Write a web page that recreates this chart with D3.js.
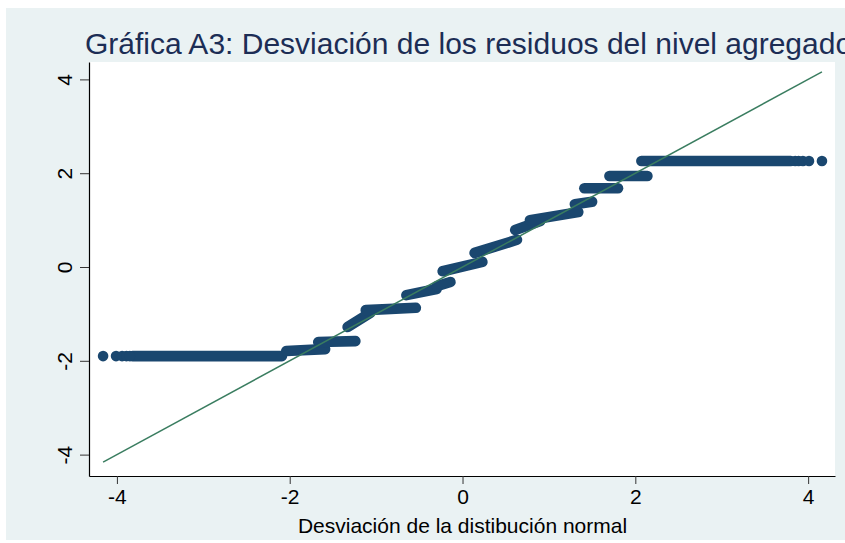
<!DOCTYPE html>
<html>
<head>
<meta charset="utf-8">
<script src="https://cdn.jsdelivr.net/npm/d3@7"></script>
<style>
  html, body { margin: 0; padding: 0; background: #ffffff; }
  svg { display: block; font-family: "Liberation Sans", Arial, sans-serif; }
</style>
</head>
<body>
<svg id="chart" width="845" height="543"></svg>
<script>
// Normal quantile plot of the aggregated-level residuals.

const chartTitle = "Gráfica A3: Desviación de los residuos del nivel agregado";
const xAxisTitle = "Desviación de la distibución normal";
const xTicks = [-4, -2, 0, 2, 4];
const yTicks = [-4, -2, 0, 2, 4];

// Sparse observations in the extreme tails (normal quantile values)
const lowerTailX = [-4.16, -4.01, -3.94, -3.89, -3.85];
const lowerTailY = [-1.90, -1.90, -1.90, -1.90, -1.90];
const upperTailX = [3.85, 3.89, 3.94, 4.01, 4.16];
const upperTailY = [2.26, 2.26, 2.26, 2.26, 2.26];

// Dense runs of observations: [quantile start, residual start, quantile end, residual end]
const runs = [
  [-3.82, -1.90, -2.09, -1.90],
  [-2.04, -1.79, -1.59, -1.75],
  [-1.67, -1.60, -1.24, -1.58],
  [-1.33, -1.28, -1.07, -0.98],
  [-1.12, -0.92, -0.54, -0.87],
  [-0.65, -0.60, -0.30, -0.47],
  [-0.30, -0.41, -0.14, -0.32],
  [-0.23, -0.09, 0.23, 0.11],
  [0.14, 0.30, 0.63, 0.58],
  [0.61, 0.79, 0.90, 0.98],
  [0.78, 1.00, 1.34, 1.17],
  [1.30, 1.34, 1.50, 1.39],
  [1.41, 1.68, 1.80, 1.68],
  [1.70, 1.94, 2.14, 1.94],
  [2.07, 2.26, 3.80, 2.26]
];

// Reference line y = x over the range of the quantiles
const refLine = [[-4.16, -4.16], [4.16, 4.16]];

const svg = d3.select("#chart");
const W = 845, H = 543;
const plot = { left: 89, right: 835, top: 62, bottom: 476 };

const x = d3.scaleLinear().domain([-4.323, 4.311]).range([plot.left, plot.right]);
const y = d3.scaleLinear().domain([-4.456, 4.371]).range([plot.bottom, plot.top]);

// graph region
svg.append("rect").attr("x", 6).attr("y", 8).attr("width", W - 6).attr("height", H - 11)
  .attr("fill", "#eaf2f3");
// plot region
svg.append("rect").attr("x", plot.left).attr("y", plot.top)
  .attr("width", plot.right - plot.left).attr("height", plot.bottom - plot.top)
  .attr("fill", "#ffffff");

const markColor = "#1a476f";
const dotR = 5.3;

const g = svg.append("g");
const seg = d3.line().x(d => x(d[0])).y(d => y(d[1]));

g.selectAll("path.run").data(runs).join("path")
  .attr("class", "run")
  .attr("d", r => seg([[r[0], r[1]], [r[2], r[3]]]))
  .attr("fill", "none")
  .attr("stroke", markColor)
  .attr("stroke-width", dotR * 2)
  .attr("stroke-linecap", "round");

const tailPts = lowerTailX.map((v, i) => [v, lowerTailY[i]])
  .concat(upperTailX.map((v, i) => [v, upperTailY[i]]));
g.selectAll("circle.obs").data(tailPts).join("circle")
  .attr("class", "obs")
  .attr("cx", d => x(d[0])).attr("cy", d => y(d[1]))
  .attr("r", dotR).attr("fill", markColor);

svg.append("path").datum(refLine)
  .attr("d", seg)
  .attr("fill", "none")
  .attr("stroke", "#3a7d60")
  .attr("stroke-width", 1.5);

// axes
const yAxis = svg.append("g").attr("transform", `translate(${plot.left},0)`)
  .call(d3.axisLeft(y).tickValues(yTicks).tickSize(9).tickSizeOuter(0));
yAxis.select(".domain").attr("stroke", "#000").attr("stroke-width", 1.2);
yAxis.selectAll(".tick line").attr("stroke", "#333");
yAxis.selectAll(".tick text")
  .text(d => String(d))
  .attr("transform", "rotate(-90)")
  .attr("x", 0).attr("y", -17).attr("dy", 0)
  .attr("text-anchor", "middle")
  .attr("font-size", 21).attr("fill", "#000")
  .style("font-family", "Liberation Sans, Arial, sans-serif");

const xAxis = svg.append("g").attr("transform", `translate(0,${plot.bottom})`)
  .call(d3.axisBottom(x).tickValues(xTicks).tickSize(8).tickSizeOuter(0).tickPadding(5));
xAxis.select(".domain").attr("stroke", "#000").attr("stroke-width", 1.2);
xAxis.selectAll(".tick line").attr("stroke", "#333");
xAxis.selectAll(".tick text")
  .text(d => String(d))
  .attr("font-size", 21).attr("fill", "#000")
  .style("font-family", "Liberation Sans, Arial, sans-serif");

svg.append("text")
  .attr("x", (x(-4) + x(4)) / 2).attr("y", 533)
  .attr("text-anchor", "middle")
  .attr("font-size", 21).attr("fill", "#000")
  .text(xAxisTitle);

svg.append("text")
  .attr("x", 85).attr("y", 54)
  .attr("font-size", 30).attr("fill", "#1c2d55")
  .text(chartTitle);
</script>
</body>
</html>
